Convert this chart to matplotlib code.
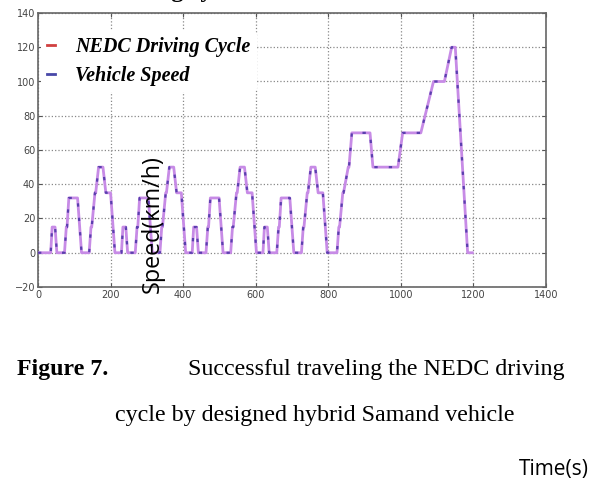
import matplotlib.pyplot as plt
from matplotlib.lines import Line2D

# ======== Data: NEDC speed profile (time s, speed km/h) ========
tempo = [0, 35, 39, 47, 52, 73, 78, 80, 85, 109, 120, 141, 146, 148, 157, 159, 167, 179, 187, 200, 212,
         230, 234, 242, 247, 268, 273, 275, 280, 304, 315, 336, 341, 343, 352, 354, 362, 374, 382, 395, 407,
         425, 429, 437, 442, 463, 468, 470, 475, 499, 510, 531, 536, 538, 547, 549, 557, 569, 577, 590, 602,
         620, 624, 632, 637, 658, 663, 665, 670, 694, 705, 726, 731, 733, 742, 744, 752, 764, 772, 785, 797,
         824, 829, 831, 840, 842, 855, 857, 865, 915, 923, 992, 1005, 1055, 1090, 1120, 1140, 1150, 1184, 1197]
velocidade = [0, 0, 15, 15, 0, 0, 15, 15, 32, 32, 0, 0, 15, 15, 35, 35, 50, 50, 35, 35, 0,
              0, 15, 15, 0, 0, 15, 15, 32, 32, 0, 0, 15, 15, 35, 35, 50, 50, 35, 35, 0,
              0, 15, 15, 0, 0, 15, 15, 32, 32, 0, 0, 15, 15, 35, 35, 50, 50, 35, 35, 0,
              0, 15, 15, 0, 0, 15, 15, 32, 32, 0, 0, 15, 15, 35, 35, 50, 50, 35, 35, 0,
              0, 15, 15, 35, 35, 50, 50, 70, 70, 50, 50, 70, 70, 100, 100, 120, 120, 0, 0]

x_ticks = [0, 200, 400, 600, 800, 1000, 1200, 1400]
y_ticks = [-20, 0, 20, 40, 60, 80, 100, 120, 140]
legenda = ['NEDC Driving Cycle', 'Vehicle Speed']

# ======== Figure ========
W, H = 590, 484
fig = plt.figure(figsize=(W / 100, H / 100), dpi=100)
ax = fig.add_axes([38 / W, 1 - 287 / H, 508 / W, 274 / H])

ax.plot(tempo, velocidade, color='#c78be6', lw=2.0, zorder=3)
ax.plot(tempo, velocidade, color='#5a3fae', lw=1.6, ls=(0, (1.5, 5)), zorder=4)

ax.set_xlim(0, 1400)
ax.set_ylim(-20, 140)
ax.set_xticks(x_ticks)
ax.set_yticks(y_ticks)
ax.tick_params(direction='in', top=True, right=True, length=3, labelsize=7,
               labelcolor='#444444', color='#555555', pad=2)
ax.grid(True, ls=':', color='#888888', lw=0.9)
for s in ax.spines.values():
    s.set_color('#666666')
    s.set_linewidth(1.2)

# legenda sem borda, fundo branco
handles = [Line2D([], [], color='#d04040', lw=2), Line2D([], [], color='#4848a8', lw=2)]
leg = ax.legend(handles, legenda, loc='upper left', bbox_to_anchor=(0.006, 0.934),
                frameon=True, handlelength=0.4, handletextpad=1.0, borderaxespad=0,
                borderpad=0.3, labelspacing=0.45,
                prop={'family': 'Liberation Serif', 'weight': 'bold', 'style': 'italic', 'size': 14.5})
leg.get_frame().set_edgecolor('none')
leg.get_frame().set_facecolor('white')
leg.get_frame().set_alpha(1)

# textos sobrepostos
fig.text(153 / W, 1 - 224 / H, 'Speed(km/h)', rotation=90, ha='center', va='center',
         family='Open Sans', fontsize=16.8, color='black')
fig.text(589 / W, 1 - 470 / H, 'Time(s)', ha='right', va='center',
         family='Open Sans', fontsize=15, color='black')

fig.text(17 / W, 1 - 370 / H, 'Figure 7.', ha='left', va='center',
         family='Liberation Serif', weight='bold', fontsize=17.2)
fig.text(188 / W, 1 - 370 / H, 'Successful traveling the NEDC driving', ha='left', va='center',
         family='Liberation Serif', fontsize=17.3)
fig.text(115 / W, 1 - 415 / H, 'cycle by designed hybrid Samand vehicle', ha='left', va='center',
         family='Liberation Serif', fontsize=17.3)

# resto do titulo cortado no topo (so as descendentes aparecem)
titulo_props = dict(family='Liberation Serif', weight='bold', fontsize=17.5)
r = fig.canvas.get_renderer()
tmp = fig.text(0, 0, 'drivin', **titulo_props)
larg = tmp.get_window_extent(r).width
tmp.remove()
fig.text((171 - larg) / W, 1 + 3.5 / H, 'driving cycle', ha='left', va='baseline', **titulo_props)

fig.savefig('out.png', dpi=100)
